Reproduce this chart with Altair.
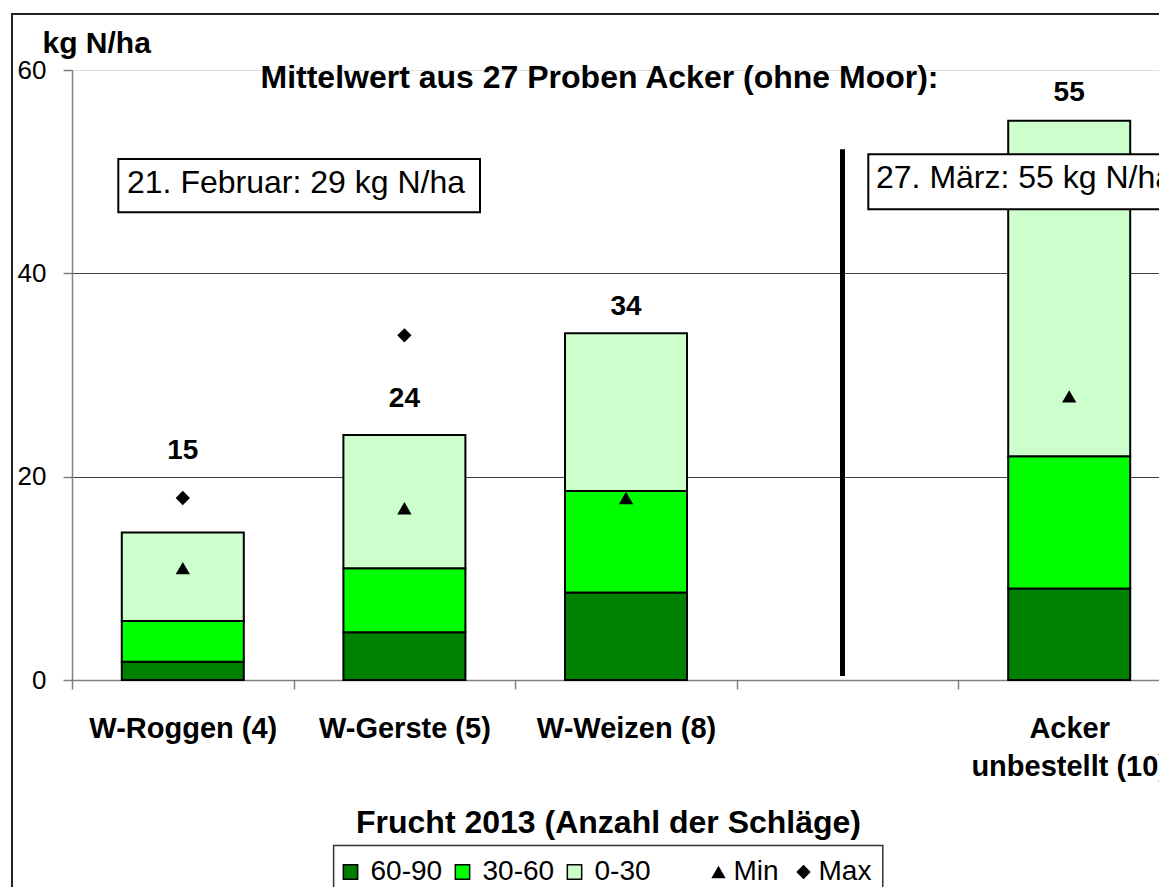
import altair as alt
import pandas as pd

FONT = "Liberation Sans"

# ---- data ----
categories = ["W-Roggen (4)", "W-Gerste (5)", "W-Weizen (8)", " ", "Acker|unbestellt (10)"]
bar_cats = ["W-Roggen (4)", "W-Gerste (5)", "W-Weizen (8)", "Acker|unbestellt (10)"]
layer_names = ["60-90", "30-60", "0-30"]
layer_colors = ["#008000", "#00FF00", "#CCFFCC"]
seg_60_90 = [1.8, 4.7, 8.6, 9.0]
seg_30_60 = [4.0, 6.3, 10.0, 13.0]
seg_0_30 = [8.7, 13.1, 15.5, 33.0]
total_labels = ["15", "24", "34", "55"]
label_level = [21.7, 26.9, 35.9, 57.0]
min_vals = [11.0, 16.9, 17.9, 27.9]
max_vals = [17.9, 33.9, None, None]
separator_range = [52.2, 0.4]
marker_kinds = ["Min", "Max"]
marker_shapes = ["triangle-up", "diamond"]

# ---- tables ----
rows = []
for i, c in enumerate(bar_cats):
    for j, (name, seg) in enumerate(zip(layer_names, [seg_60_90, seg_30_60, seg_0_30])):
        rows.append({"cat": c, "layer": name, "value": seg[i], "ord": j})
bars_df = pd.DataFrame(rows)

pts = []
for i, c in enumerate(bar_cats):
    pts.append({"cat": c, "kind": "Min", "value": min_vals[i]})
    if max_vals[i] is not None:
        pts.append({"cat": c, "kind": "Max", "value": max_vals[i]})
pts_df = pd.DataFrame(pts)

lab_df = pd.DataFrame({"cat": bar_cats, "text": total_labels, "level": label_level})
sep_df = pd.DataFrame({"y1": [separator_range[0]], "y2": [separator_range[1]]})
one = pd.DataFrame({"a": [0]})

xscale = alt.Scale(domain=categories, range=[0, 1108], paddingInner=0, paddingOuter=0)
yscale = alt.Scale(domain=[0, 60], nice=False)

x_axis = alt.Axis(
    title="Frucht 2013 (Anzahl der Schläge)",
    labelExpr="split(datum.label, '|')",
    labelAngle=0,
    labelFont=FONT,
    labelFontSize=29,
    labelFontWeight="bold",
    labelColor="black",
    labelPadding=25,
    labelLineHeight=38,
    labelLimit=0,
    labelOverlap=False,
    labelBound=False,
    tickBand="extent",
    tickSize=9,
    tickColor="#808080",
    tickWidth=1.5,
    domainColor="#808080",
    domainWidth=1.5,
    grid=False,
    titleFont=FONT,
    titleFontSize=32,
    titleFontWeight="bold",
    titleColor="black",
    titleX=536,
    titleY=152,
    titleBaseline="alphabetic",
    titleAlign="center",
)

y_axis = alt.Axis(
    values=[0, 20, 40, 60],
    labelFont=FONT,
    labelFontSize=26,
    labelColor="black",
    labelPadding=17,
    tickSize=9,
    tickColor="#808080",
    tickWidth=1.5,
    domainColor="#808080",
    domainWidth=1.5,
    grid=True,
    gridColor=alt.condition("datum.value === 60", alt.value("#dddddd"), alt.value("#404040")),
    gridWidth=1,
    title="kg N/ha",
    titleAngle=0,
    titleFont=FONT,
    titleFontSize=30,
    titleFontWeight="bold",
    titleColor="black",
    titleAlign="left",
    titleBaseline="alphabetic",
    titleX=-30,
    titleY=-18,
)


def xe():
    return alt.X("cat:N", scale=xscale, sort=categories, axis=x_axis)


def ye(field):
    return alt.Y(field, scale=yscale, axis=y_axis)


bar_legend = alt.Legend(
    orient="none",
    legendX=264.5,
    legendY=788,
    direction="horizontal",
    title=None,
    symbolType="square",
    symbolSize=205,
    symbolStrokeColor="black",
    symbolStrokeWidth=1.5,
    symbolOpacity=1,
    labelFont=FONT,
    labelFontSize=28,
    labelColor="black",
    labelOffset=6,
    columnPadding=6,
    padding=0,
)

frame = alt.Chart(one).mark_rect(fillOpacity=0, stroke="#222222", strokeWidth=2).encode(
    x=alt.value(-60), x2=alt.value(1400), y=alt.value(-56), y2=alt.value(1200)
)

bars = alt.Chart(bars_df).mark_bar(size=122, strokeWidth=2).encode(
    x=xe(),
    y=alt.Y("value:Q", stack="zero", scale=yscale, axis=y_axis),
    color=alt.Color(
        "layer:N",
        scale=alt.Scale(domain=layer_names, range=layer_colors),
        legend=bar_legend,
    ),
    stroke=alt.Stroke(
        "layer:N",
        scale=alt.Scale(domain=layer_names, range=["black", "black", "black"]),
        legend=bar_legend,
    ),
    order=alt.Order("ord:Q", sort="ascending"),
)

separator = alt.Chart(sep_df).mark_rule(color="black", strokeWidth=5).encode(
    x=alt.value(770.5),
    y=ye("y1:Q"),
    y2="y2:Q",
)

points = alt.Chart(pts_df).mark_point(filled=True, size=205, color="black", opacity=1).encode(
    x=xe(),
    y=ye("value:Q"),
    shape=alt.Shape(
        "kind:N",
        scale=alt.Scale(domain=marker_kinds, range=marker_shapes),
        legend=alt.Legend(
            orient="none",
            legendX=632.5,
            legendY=788,
            direction="horizontal",
            title=None,
            symbolSize=205,
            symbolFillColor="black",
            symbolStrokeColor="black",
            symbolOpacity=1,
            labelFont=FONT,
            labelFontSize=28,
            labelColor="black",
            labelOffset=1,
            columnPadding=10,
            padding=0,
        ),
    ),
)

labels = alt.Chart(lab_df).mark_text(
    font=FONT, fontSize=28, fontWeight="bold", color="black", baseline="alphabetic"
).encode(
    x=xe(),
    y=ye("level:Q"),
    text="text:N",
)

title_txt = alt.Chart(one).mark_text(
    font=FONT, fontSize=32, fontWeight="bold", color="black", baseline="alphabetic", align="center"
).encode(x=alt.value(527.5), y=alt.value(18.3), text=alt.value("Mittelwert aus 27 Proben Acker (ohne Moor):"))

box1 = alt.Chart(one).mark_rect(fill="white", stroke="black", strokeWidth=2).encode(
    x=alt.value(46.3), x2=alt.value(408), y=alt.value(89), y2=alt.value(142.3)
)
box1_txt = alt.Chart(one).mark_text(
    font=FONT, fontSize=32, color="black", baseline="alphabetic", align="left"
).encode(x=alt.value(55), y=alt.value(122.7), text=alt.value("21. Februar: 29 kg N/ha"))

box2 = alt.Chart(one).mark_rect(fill="white", stroke="black", strokeWidth=2).encode(
    x=alt.value(796.3), x2=alt.value(1120), y=alt.value(84.3), y2=alt.value(139.3)
)
box2_txt = alt.Chart(one).mark_text(
    font=FONT, fontSize=32, color="black", baseline="alphabetic", align="left"
).encode(x=alt.value(804), y=alt.value(117.7), text=alt.value("27. März: 55 kg N/ha"))

legend_box = alt.Chart(one).mark_rect(fillOpacity=0, stroke="#333333", strokeWidth=1.5).encode(
    x=alt.value(261.6), x2=alt.value(810.8), y=alt.value(775.5), y2=alt.value(1000)
)

chart = alt.layer(
    frame, bars, separator, points, labels, title_txt, box1, box1_txt, box2, box2_txt, legend_box
).properties(
    width=1087,
    height=610,
    autosize=alt.AutoSizeParams(type="none"),
    padding={"left": 64, "top": 62, "right": 0, "bottom": 207},
).configure(font=FONT).configure_view(strokeWidth=0)

chart.save("out.html", embed_options={"renderer": "svg", "actions": False})
